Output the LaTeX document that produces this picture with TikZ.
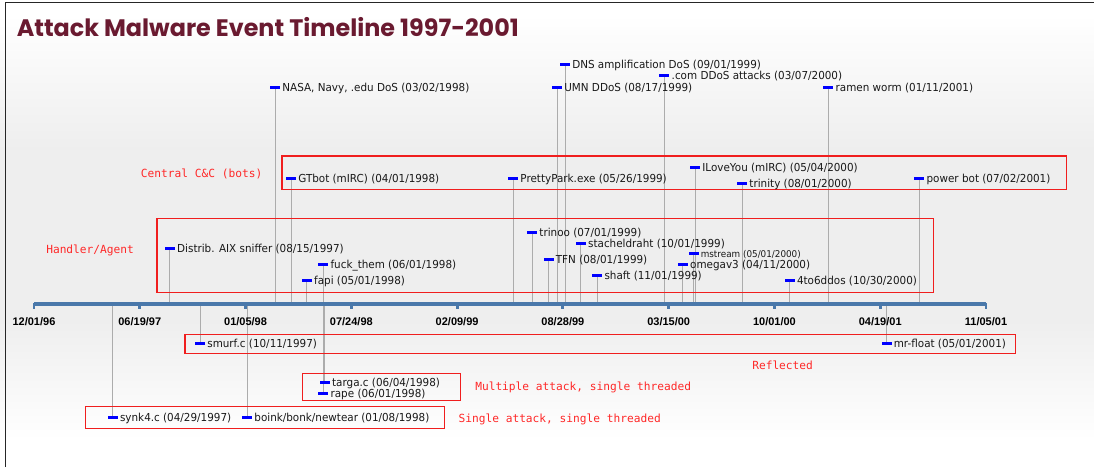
\documentclass[tikz,border=0pt]{standalone}
\usepackage{fontspec}
\setmainfont{DejaVu Sans}
\newfontfamily\evfont{DejaVu Sans}[FakeStretch=0.945]
\newfontfamily\axfont{Liberation Sans}
\newfontfamily\redfont{DejaVu Sans Mono}
\newfontfamily\titlefont{Poppins}
\definecolor{axisblue}{RGB}{74,120,170}
\definecolor{titlered}{RGB}{106,26,48}
\definecolor{boxred}{RGB}{240,30,30}
\definecolor{labred}{RGB}{255,40,40}
\definecolor{stemgray}{RGB}{172,172,172}
\definecolor{bgg}{RGB}{238,238,238}
\pgfdeclarelayer{back}
\pgfdeclarelayer{bg}
\pgfsetlayers{back,bg,main}
\tikzset{
  bar/.style={fill=blue, draw=none, inner sep=0, minimum width=7.5pt, minimum height=2.25pt},
  stem/.style={draw=stemgray, line width=0.7pt},
  evtext/.style={inner sep=0, anchor=base west, text=black!90, font=\evfont\fontsize{8.25}{10}\selectfont},
  small/.style={font=\evfont\fontsize{7.0}{9}\selectfont},
  grpbox/.style={draw=boxred, line width=0.85pt},
  grplabel/.style={inner sep=0, anchor=base west, text=labred, font=\redfont\fontsize{8.4}{10}\selectfont},
  ticklab/.style={inner sep=0, font=\axfont\bfseries\fontsize{8.25}{10}\selectfont},
  axisline/.style={draw=axisblue, line width=2.6pt},
  axistick/.style={draw=axisblue, line width=2.2pt},
}
\newcommand\evt[5][]{%
  \coordinate (#2-ax) at ({34+#3*0.52889},304);
  \node[bar] (#2-bar) at ({34+#3*0.52889},#4) {};
  \begin{pgfonlayer}{bg}\draw[stem] (#2-bar.center) -- (#2-ax);\end{pgfonlayer}
  \node[evtext,#1] (#2) at ({41+#3*0.52889},{#4+4}) {#5};
}
\begin{document}
\begin{tikzpicture}[x=0.75pt,y=-0.75pt]
\useasboundingbox (0,0) rectangle (1094,467);
\begin{pgfonlayer}{back}
  \fill[white] (0,0) rectangle (1094,467);
  \shade[top color=white,bottom color=bgg] (0,15) rectangle (1094,150);
  \fill[bgg] (0,149.5) rectangle (1094,320.5);
  \shade[top color=bgg,bottom color=white] (0,320) rectangle (1094,440);
\end{pgfonlayer}
\draw[line width=1.1pt, black!85] (5.7,467) -- (5.7,2.7) -- (1094,2.7);

\node[anchor=base west, inner sep=0, text=titlered, font=\titlefont\bfseries\fontsize{18}{22}\selectfont] (title) at (16.5,36.1) {\resizebox{376.5pt}{!}{Attack Malware Event Timeline 1997-2001}};

% group boxes
\draw[grpbox] (282,156) rectangle (1066.5,189.5);
\draw[grpbox] (157,218.5) rectangle (933.5,292.5);
\draw[grpbox] (185,334.5) rectangle (1015.5,353.5);
\draw[grpbox] (302.5,373.5) rectangle (460.5,400.5);
\draw[grpbox] (85.5,406.5) rectangle (444.5,428.5);

\node[grplabel] (lcc) at (140.7,177.3) {Central C\&C (bots)};
\node[grplabel] (lha) at (46,253) {Handler/Agent};
\node[grplabel] (lre) at (752,369.3) {Reflected};
\node[grplabel] (lmu) at (475,390.5) {Multiple attack, single threaded};
\node[grplabel] (lsi) at (458.3,422) {Single attack, single threaded};

% axis
\coordinate (axL) at (34,304);
\coordinate (axR) at (986,304);
\draw[axisline] (axL) -- (axR);
\foreach \i/\lab in {0/{12/01/96},1/{06/19/97},2/{01/05/98},3/{07/24/98},4/{02/09/99},5/{08/28/99},6/{03/15/00},7/{10/01/00},8/{04/19/01},9/{11/05/01}}{
  \coordinate (tk\i) at ({34+\i*105.778},303);
  \draw[axistick] (tk\i) -- ++(0,5.5);
  \node[ticklab] (tl\i) at ({34+\i*105.778},321.6) {\lab};
}

% events above the axis
\evt{nasa}{456}{87}{NASA, Navy, .edu DoS (03/02/1998)}
\evt{dns}{1004}{65}{DNS amplification DoS (09/01/1999)}
\evt{umn}{989}{87}{UMN DDoS (08/17/1999)}
\evt{com}{1192}{75.5}{.com DDoS attacks (03/07/2000)}
\evt{ramen}{1502}{87.5}{ramen worm (01/11/2001)}
\evt{gtbot}{486}{178.3}{GTbot (mIRC) (04/01/1998)}
\evt{pretty}{906}{178}{PrettyPark.exe (05/26/1999)}
\evt{iloveyou}{1250}{167.7}{ILoveYou (mIRC) (05/04/2000)}
\evt{trinity}{1339}{183.3}{trinity (08/01/2000)}
\evt{powerbot}{1674}{178.3}{power bot (07/02/2001)}
\evt{aix}{257}{248.7}{Distrib. AIX sniffer (08/15/1997)}
\evt{fuck}{547}{264.7}{fuck\_them (06/01/1998)}
\evt{fapi}{516}{280.7}{fapi (05/01/1998)}
\evt{trinoo}{942}{232.7}{trinoo (07/01/1999)}
\evt{stach}{1034}{243.3}{stacheldraht (10/01/1999)}
\evt{tfn}{973}{259.3}{TFN (08/01/1999)}
\evt{shaft}{1065}{275.3}{shaft (11/01/1999)}
\evt[small]{mstream}{1247}{253.7}{mstream (05/01/2000)}
\evt{omega}{1227}{264}{omegav3 (04/11/2000)}
\evt{tosix}{1429}{280.7}{4to6ddos (10/30/2000)}
% events below the axis
\evt{smurf}{314}{343.3}{smurf.c (10/11/1997)}
\evt{mrfloat}{1612}{343.7}{mr-float (05/01/2001)}
\evt{targa}{550}{382.2}{targa.c (06/04/1998)}
\evt{rape}{547}{393.1}{rape (06/01/1998)}
\evt{synk}{149}{417}{synk4.c (04/29/1997)}
\evt{boink}{403}{417}{boink/bonk/newtear (01/08/1998)}
\end{tikzpicture}
\end{document}
